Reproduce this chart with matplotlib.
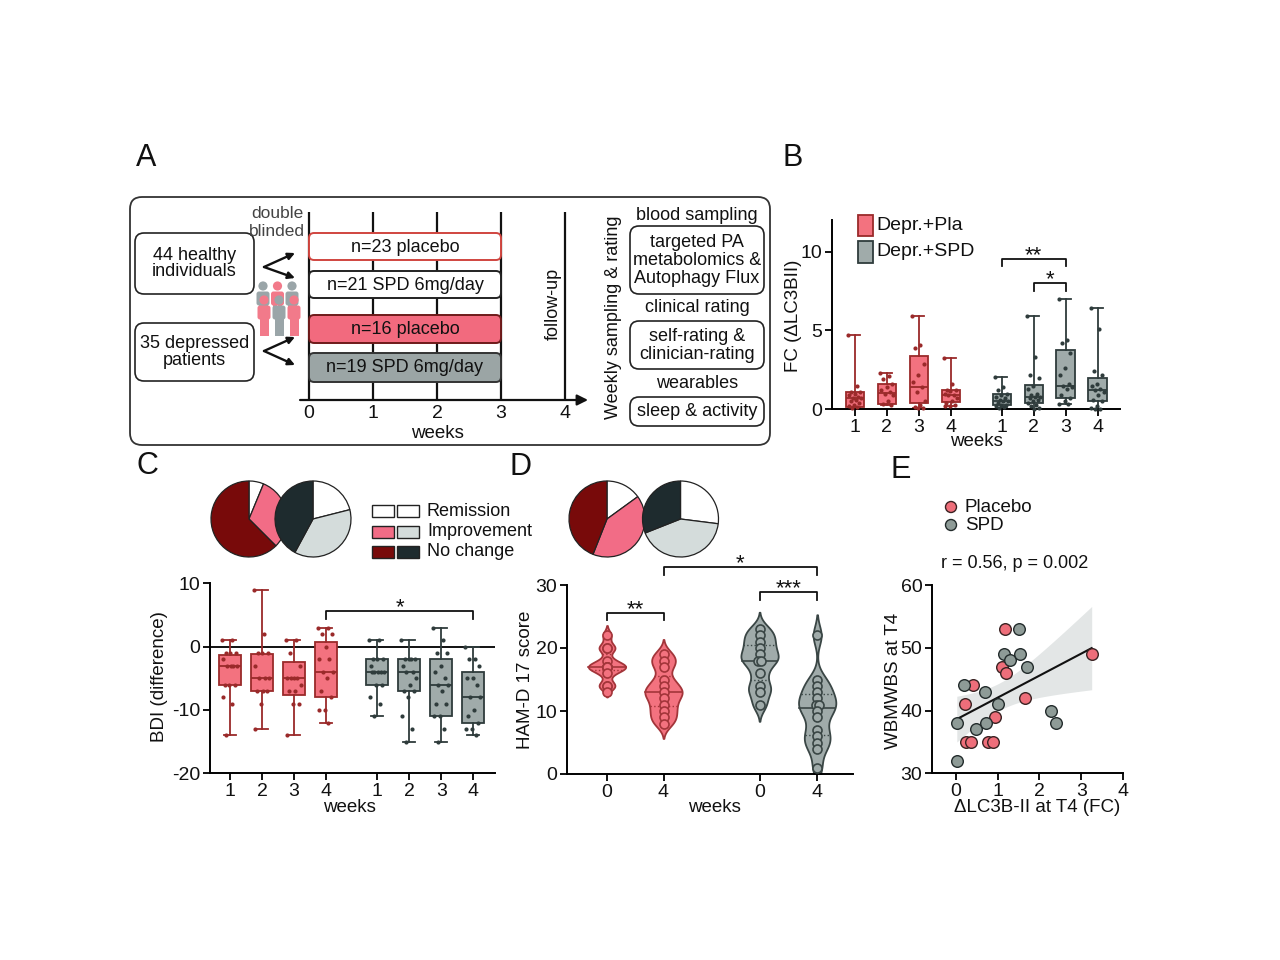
import numpy as np
import matplotlib
matplotlib.use('Agg')
import matplotlib.pyplot as plt
from matplotlib.patches import FancyBboxPatch, Rectangle, Circle

plt.rcParams['font.family'] = ['Liberation Sans', 'DejaVu Sans']
plt.rcParams['axes.unicode_minus'] = False
plt.rcParams['font.size'] = 13

# ======================= DATA =======================
# Panel A: study design
design_weeks = [0, 1, 2, 3, 4]
arm_labels = ['n=23 placebo', 'n=21 SPD 6mg/day', 'n=16 placebo', 'n=19 SPD 6mg/day']
arm_start_week = [0, 0, 0, 0]
arm_end_week = [3, 3, 3, 3]
followup_week = 4
cohort_labels = ['44 healthy\nindividuals', '35 depressed\npatients']
sampling_headers = ['blood sampling', 'clinical rating', 'wearables']
sampling_items = ['targeted PA\nmetabolomics &\nAutophagy Flux',
                  'self-rating &\nclinician-rating', 'sleep & activity']

# Panel B: FC (ΔLC3BII), placebo weeks 1-4 then SPD weeks 1-4
week_ticklabels = ['1', '2', '3', '4', '1', '2', '3', '4']
fc_whislo = [0.10, 0.25, 0.10, 0.20, 0.10, 0.05, 0.35, 0.05]
fc_q1 = [0.15, 0.35, 0.40, 0.45, 0.25, 0.40, 0.70, 0.55]
fc_med = [0.70, 1.05, 1.40, 0.90, 0.55, 0.75, 1.50, 1.20]
fc_q3 = [1.10, 1.60, 3.35, 1.25, 0.95, 1.55, 3.75, 2.00]
fc_whishi = [4.70, 2.30, 5.90, 3.25, 2.05, 5.90, 7.00, 6.40]
fc_points = [
    [4.7, 1.5, 1.1, 1.1, 1.0, 0.9, 0.8, 0.7, 0.7, 0.6, 0.5, 0.4, 0.3, 0.2, 0.15, 0.1],
    [2.3, 2.1, 1.9, 1.6, 1.4, 1.2, 1.1, 1.0, 0.9, 0.5, 0.35, 0.3],
    [5.9, 4.1, 3.9, 2.9, 2.2, 1.7, 1.4, 1.1, 0.5, 0.3, 0.15, 0.1, 0.1],
    [3.25, 1.6, 1.25, 1.2, 1.15, 1.0, 0.9, 0.9, 0.7, 0.5, 0.4, 0.3, 0.2, 0.2],
    [2.05, 1.4, 1.2, 1.0, 0.9, 0.8, 0.7, 0.6, 0.55, 0.5, 0.4, 0.3, 0.25, 0.2, 0.15, 0.1],
    [5.9, 3.3, 2.2, 2.0, 1.5, 1.3, 1.0, 0.9, 0.8, 0.75, 0.7, 0.6, 0.5, 0.4, 0.3, 0.2, 0.1, 0.05],
    [7.0, 4.4, 4.2, 3.6, 2.6, 2.2, 1.6, 1.5, 1.4, 1.3, 0.9, 0.7, 0.5, 0.35, 0.35],
    [6.4, 5.1, 2.4, 2.2, 1.6, 1.5, 1.3, 1.2, 1.1, 0.9, 0.6, 0.5, 0.2, 0.1, 0.05, 0.05],
]

# Panels C/D pies: Remission, Improvement, No change
pie_labels = ['Remission', 'Improvement', 'No change']
bdi_pie_placebo = [1, 5, 10]
bdi_pie_spd = [4, 7, 8]
ham_pie_placebo = [15, 41, 44]
ham_pie_spd = [27, 42, 31]

# Panel C: BDI (difference)
bdi_whislo = [-14, -13, -14, -12, -11, -15, -15, -14]
bdi_q1 = [-6, -7, -7.7, -8, -6, -7, -11, -12]
bdi_med = [-3, -5, -5, -4, -4, -4, -6, -8]
bdi_q3 = [-1.3, -1.1, -2.5, 0.8, -2, -2, -2, -4]
bdi_whishi = [1, 9, 1, 3, 1, 1, 3, 0]
bdi_points = [
    [1, 1, -1, -1, -1, -2, -3, -3, -3, -3, -6, -6, -6, -8, -9, -14],
    [9, 2, -1, -1, -1, -3, -5, -5, -5, -7, -7, -7, -9, -13],
    [1, 1, -1, -3, -5, -5, -5, -5, -6, -7, -7, -9, -9, -14],
    [3, 3, 2, 2, 0, -2, -2, -4, -4, -5, -7, -8, -10, -10, -12],
    [1, 1, -2, -2, -2, -3, -4, -4, -4, -4, -4, -6, -6, -8, -9, -11],
    [1, -2, -2, -2, -2, -3, -4, -4, -5, -6, -7, -7, -8, -11, -13, -15],
    [3, 1, -1, -1, -3, -4, -5, -6, -6, -7, -9, -9, -11, -11, -13, -15],
    [0, -2, -2, -3, -5, -5, -6, -8, -8, -10, -11, -12, -13, -13, -14],
]

# Panel D: HAM-D 17 score
ham_ticklabels = ['0', '4', '0', '4']
ham_groups = [
    [22, 20, 20, 18, 17, 17, 17, 17, 16, 14, 14],
    [19, 18, 17, 15, 14, 13, 13, 12, 11, 10, 9, 8],
    [23, 22, 21, 20, 19, 18, 18, 16, 14, 13, 11],
    [22, 15, 14, 13, 12, 11, 11, 10, 9, 7, 6, 5, 4, 1],
]

# Panel E: ΔLC3B-II at T4 vs WBMWBS at T4
lc3_placebo = [1.17, 1.11, 1.21, 3.25, 0.41, 0.21, 1.65, 0.93, 0.25, 0.37, 0.77, 0.89]
wb_placebo = [53, 47, 46, 49, 44, 41, 42, 39, 35, 35, 35, 35]
lc3_spd = [1.51, 1.15, 1.29, 1.54, 1.70, 0.19, 0.69, 1.01, 0.02, 0.49, 0.73, 2.28, 2.40, 0.03]
wb_spd = [53, 49, 48, 49, 47, 44, 43, 41, 38, 37, 38, 40, 38, 32]
corr_text = 'r = 0.56, p = 0.002'

# ======================= STYLE =======================
PINK = '#F3727F'
DRED = '#9A2A2A'
GRAY = '#A0ABAA'
DGRAY = '#2F3C3C'
PIE_PLA = ['white', '#F26C86', '#780A0A']
PIE_SPD = ['white', '#D4DCDB', '#1E2B2E']
TXT = '#111111'
POS8 = [0, 1, 2, 3, 4.6, 5.6, 6.6, 7.6]
POS4 = [0, 1, 2.7, 3.72]

W, H = 1280, 960
fig = plt.figure(figsize=(W / 100, H / 100), dpi=100)
fig.patch.set_facecolor('white')


def add_ax(x0, y0, x1, y1):
    a = fig.add_axes([x0 / W, 1 - y1 / H, (x1 - x0) / W, (y1 - y0) / H])
    a.set_facecolor('none')
    return a


def style_ax(a):
    for s in ['top', 'right']:
        a.spines[s].set_visible(False)
    for s in ['left', 'bottom']:
        a.spines[s].set_linewidth(1.4)
    a.tick_params(width=1.4, length=5, labelsize=14, pad=2, colors=TXT)


ov = add_ax(0, 0, W, H)
ov.set_xlim(0, W)
ov.set_ylim(H, 0)
ov.axis('off')


def rbox(x0, y0, x1, y1, fc='white', ec='#222', lw=1.2, r=9, z=1):
    ov.add_patch(FancyBboxPatch((x0, y0), x1 - x0, y1 - y0,
                                boxstyle=f'round,pad=0,rounding_size={r}',
                                fc=fc, ec=ec, lw=lw, zorder=z))

# ---------------- Panel letters ----------------
for letter, (lx, ly) in zip('ABCDE', [(146, 158), (793, 158), (147, 466), (520, 467), (901, 470)]):
    ov.text(lx, ly, letter, fontsize=22, ha='center', va='center', color=TXT)

# ---------------- Panel A ----------------
rbox(130, 197, 770, 445, fc='none', ec='#333', lw=1.3, r=12)
for lab, (y0, y1) in zip(cohort_labels, [(233, 294), (323, 381)]):
    rbox(135, y0, 254, y1, r=9)
    ov.text(194.5, (y0 + y1) / 2, lab, ha='center', va='center', fontsize=13,
            linespacing=1.0, color=TXT)
# chevron arrows
for vx, vy, t1, t2 in [(264, 267, 253, 278), (264, 351, 337, 365)]:
    for ty in (t1, t2):
        ov.annotate('', xy=(295, ty), xytext=(vx, vy),
                    arrowprops=dict(arrowstyle='-|>', lw=1.7, color='#111',
                                    mutation_scale=10, shrinkA=0, shrinkB=0))
# people icons
def person(cx, ty, color, h):
    ov.add_patch(Circle((cx, ty), 4.6, fc=color, ec='none', zorder=3))
    ov.add_patch(FancyBboxPatch((cx - 6.5, ty + 5.5), 13, 14, boxstyle='round,pad=0,rounding_size=2.5',
                                fc=color, ec='none', zorder=3))
    ov.add_patch(Rectangle((cx - 4.5, ty + 18), 4.2, h, fc=color, ec='none', zorder=3))
    ov.add_patch(Rectangle((cx + 0.3, ty + 18), 4.2, h, fc=color, ec='none', zorder=3))
PGRAY = '#9AA5A8'
PPINK = '#F27A8A'
for cx, col in zip([263, 277.5, 292], [PGRAY, PPINK, PGRAY]):
    person(cx, 286, col, 8)
for cx, col in zip([264, 279, 294], [PPINK, PGRAY, PPINK]):
    person(cx, 300, col, 18)
ov.text(277, 213, 'double', ha='center', va='center', fontsize=12.5, color='#444')
ov.text(277, 231, 'blinded', ha='center', va='center', fontsize=12.5, color='#444')

# timeline axes in weeks
axT = add_ax(277, 200, 597, 430)
axT.set_xlim(-0.5, 4.5)
axT.set_ylim(430, 200)
axT.axis('off')
for w in design_weeks:
    axT.plot([w, w], [212, 400], color='#111', lw=1.6, solid_capstyle='butt', zorder=1)
axT.annotate('', xy=(4.36, 400), xytext=(-0.14, 400),
             arrowprops=dict(arrowstyle='-|>', lw=1.6, color='#111', mutation_scale=16,
                             shrinkA=0, shrinkB=0))
for w in design_weeks:
    axT.text(w, 413, str(w), ha='center', va='center', fontsize=14, color=TXT)
axT.text(2, 433, 'weeks', ha='center', va='center', fontsize=13.5, color=TXT)
arm_rows = [(233, 260), (271, 298), (315, 343), (353, 382)]
arm_fc = ['white', 'white', '#F26A7E', '#9BA5A5']
arm_ec = ['#D0453F', '#222', '#6E1A1A', '#333']
for lab, s, e, (y0, y1), fc, ec in zip(arm_labels, arm_start_week, arm_end_week, arm_rows, arm_fc, arm_ec):
    axT.add_patch(FancyBboxPatch((s, y0), e - s, y1 - y0,
                                 boxstyle='round,pad=0,rounding_size=0.08', mutation_aspect=64,
                                 fc=fc, ec=ec, lw=1.4, zorder=3))
    axT.text((s + e) / 2, (y0 + y1) / 2 + 0.5, lab, ha='center', va='center', fontsize=13,
             color=TXT, zorder=4)
axT.text(followup_week - 0.19, 304, 'follow-up', rotation=90, ha='center', va='center',
         fontsize=13, color=TXT)

ov.text(613, 317, 'Weekly sampling & rating', rotation=90, ha='center', va='center',
        fontsize=13, color=TXT)
hdr_y = [215, 307, 383]
item_boxes = [(226, 294), (321, 369), (397, 426)]
for hdr, hy, item, (y0, y1) in zip(sampling_headers, hdr_y, sampling_items, item_boxes):
    ov.text(697, hy, hdr, ha='center', va='center', fontsize=13, color=TXT)
    rbox(630, y0, 764, y1, r=9)
    ov.text(697, (y0 + y1) / 2 + 0.5, item, ha='center', va='center', fontsize=13,
            linespacing=1.05, color=TXT)

# ---------------- Box plot helper ----------------
def draw_boxes(ax, lo, q1, med, q3, hi, pts, width, capw, jit):
    for i in range(len(POS8)):
        fc, ec = (PINK, DRED) if i < 4 else (GRAY, DGRAY)
        st = dict(whislo=lo[i], q1=q1[i], med=med[i], q3=q3[i], whishi=hi[i], fliers=[])
        ax.bxp([st], positions=[POS8[i]], widths=width, capwidths=[capw], patch_artist=True,
               showfliers=False, manage_ticks=False,
               boxprops=dict(facecolor=fc, edgecolor=ec, linewidth=1.3),
               medianprops=dict(color=ec, linewidth=1.3),
               whiskerprops=dict(color=ec, linewidth=1.3),
               capprops=dict(color=ec, linewidth=1.3))
        v = np.asarray(pts[i], float)
        off = ((np.arange(len(v)) * 0.618) % 1 - 0.5) * jit
        ax.scatter(POS8[i] + off, v, s=9, color=ec, zorder=4, linewidths=0, clip_on=False)


def bracket(ax, x1, x2, y, h, text, fs=16):
    ax.plot([x1, x1, x2, x2], [y - h, y, y, y - h], color='#111', lw=1.3, clip_on=False)
    ax.annotate(text, xy=((x1 + x2) / 2, y), xytext=(0, -1.5), textcoords='offset points',
                ha='center', va='baseline', fontsize=fs, color=TXT, annotation_clip=False)

# ---------------- Panel B ----------------
axB = add_ax(832, 220, 1120, 409.3)
style_ax(axB)
draw_boxes(axB, fc_whislo, fc_q1, fc_med, fc_q3, fc_whishi, fc_points, 0.58, 0.34, 0.42)
axB.set_xlim(-0.72, 8.3)
axB.set_ylim(0, 12.0)
axB.set_yticks([0, 5, 10])
axB.set_xticks(POS8)
axB.set_xticklabels(week_ticklabels)
bracket(axB, POS8[4], POS8[6], 9.55, 0.45, '**')
bracket(axB, POS8[5], POS8[6], 8.0, 0.5, '*')
ov.text(976, 442, 'weeks', ha='center', va='center', fontsize=13.5, color=TXT)
ov.text(793, 316, 'FC (ΔLC3BII)', rotation=90, ha='center', va='center', fontsize=13.5, color=TXT)
ov.add_patch(Rectangle((858, 215), 15, 21, fc=PINK, ec=DRED, lw=1.3))
ov.add_patch(Rectangle((858, 241), 15, 22, fc=GRAY, ec=DGRAY, lw=1.3))
ov.text(876, 226, 'Depr.+Pla', ha='left', va='center', fontsize=14, color=TXT)
ov.text(876, 252, 'Depr.+SPD', ha='left', va='center', fontsize=14, color=TXT)

# ---------------- Pies ----------------
def pie_at(cx, cy, r, vals, cols):
    pa = add_ax(cx - r * 1.03, cy - r * 1.03, cx + r * 1.03, cy + r * 1.03)
    pa.pie(vals, colors=cols, startangle=90, counterclock=False, radius=1,
           wedgeprops=dict(edgecolor='#222', linewidth=0.9))
    pa.set_xlim(-1.03, 1.03)
    pa.set_ylim(-1.03, 1.03)
    pa.set_aspect('equal')
    pa.axis('off')

pie_at(249, 519, 38, bdi_pie_placebo, PIE_PLA)
pie_at(313, 519, 38, bdi_pie_spd, PIE_SPD)
pie_at(607, 519, 38, ham_pie_placebo, PIE_PLA)
pie_at(680.5, 519, 38, ham_pie_spd, PIE_SPD)
for lab, yc, c1, c2 in zip(pie_labels, [511, 531.5, 552], PIE_PLA, PIE_SPD):
    ov.add_patch(Rectangle((372, yc - 6), 22, 12, fc=c1, ec='#222', lw=1.0))
    ov.add_patch(Rectangle((397, yc - 6), 22, 12, fc=c2, ec='#222', lw=1.0))
    ov.text(427, yc, lab, ha='left', va='center', fontsize=13, color=TXT)

# ---------------- Panel C ----------------
axC = add_ax(210, 583.3, 495, 773.3)
style_ax(axC)
draw_boxes(axC, bdi_whislo, bdi_q1, bdi_med, bdi_q3, bdi_whishi, bdi_points, 0.68, 0.36, 0.5)
axC.axhline(0, color='#111', lw=1.4, zorder=1)
axC.set_xlim(-0.625, 8.28)
axC.set_ylim(-20, 10)
axC.set_yticks([-20, -10, 0, 10])
axC.set_xticks(POS8)
axC.set_xticklabels(week_ticklabels)
bracket(axC, POS8[3], POS8[7], 5.6, 1.26, '*')
ov.text(349, 808, 'weeks', ha='center', va='center', fontsize=13.5, color=TXT)
ov.text(160, 677, 'BDI (difference)', rotation=90, ha='center', va='center', fontsize=13.5, color=TXT)

# ---------------- Panel D ----------------
axD = add_ax(567, 585, 853, 774)
style_ax(axD)
axD.set_xlim((567 - 607) / 56.5, (853 - 607) / 56.5)
axD.set_ylim(0, 30)
vfc = [PINK, PINK, GRAY, GRAY]
vec = ['#A3353A', '#A3353A', '#3A4645', '#3A4645']
for i, d in enumerate(ham_groups):
    d = np.asarray(d, float)
    bw = 0.5 * d.std() * len(d) ** -0.2
    grid = np.linspace(d.min() - 5 * bw, d.max() + 5 * bw, 600)
    dens = np.exp(-0.5 * ((grid[None, :] - d[:, None]) / bw) ** 2).sum(0)
    keep = dens > 0.02 * dens.max()
    g, w = grid[keep], dens[keep] / dens.max() * 0.33
    p = POS4[i]
    axD.fill_betweenx(g, p - w, p + w, facecolor=vfc[i], edgecolor=vec[i], lw=1.3, zorder=2)
    q25, q50, q75 = np.percentile(d, [25, 50, 75])
    for q, ls in [(q25, ':'), (q50, '-'), (q75, ':')]:
        wq = np.interp(q, g, w)
        axD.plot([p - wq, p + wq], [q, q], color=vec[i], lw=1.2 if ls == '-' else 1.0, ls=ls, zorder=3)
    xs = np.full(len(d), p)
    for val in np.unique(d):
        idx = np.where(d == val)[0]
        k = len(idx)
        xs[idx] = p + (np.arange(k) - (k - 1) / 2) * 0.05
    axD.scatter(xs, d, s=42, facecolor=vfc[i], edgecolor=vec[i], linewidths=1.2, zorder=4, clip_on=False)
axD.set_yticks([0, 10, 20, 30])
axD.set_xticks(POS4)
axD.set_xticklabels(ham_ticklabels)
bracket(axD, POS4[0], POS4[1], 25.6, 1.1, '**')
bracket(axD, POS4[2], POS4[3], 28.9, 1.25, '***')
bracket(axD, POS4[1], POS4[3], 32.9, 1.3, '*')
ov.text(714, 808, 'weeks', ha='center', va='center', fontsize=13.5, color=TXT)
ov.text(526, 680, 'HAM-D 17 score', rotation=90, ha='center', va='center', fontsize=13.5, color=TXT)

# ---------------- Panel E ----------------
axE = add_ax(932, 585, 1123, 773.3)
style_ax(axE)
xa = np.array(lc3_placebo + lc3_spd)
ya = np.array(wb_placebo + wb_spd, float)
b, a = np.polyfit(xa, ya, 1)
xs = np.linspace(xa.min(), xa.max(), 100)
n = len(xa)
res = ya - (a + b * xa)
s = np.sqrt(res @ res / (n - 2))
se = s * np.sqrt(1 / n + (xs - xa.mean()) ** 2 / ((xa - xa.mean()) ** 2).sum())
tval = 2.064
axE.fill_between(xs, a + b * xs - tval * se, a + b * xs + tval * se, color='#E3E6E6', lw=0, zorder=1)
axE.plot(xs, a + b * xs, color='#111', lw=1.5, zorder=2)
EP, ES = '#EE6E7A', '#8E9B97'
axE.scatter(lc3_placebo, wb_placebo, s=70, facecolor=EP, edgecolor='#3a2222', linewidths=1.0, zorder=3, clip_on=False)
axE.scatter(lc3_spd, wb_spd, s=70, facecolor=ES, edgecolor='#222b2b', linewidths=1.0, zorder=3, clip_on=False)
axE.set_xlim((932 - 956) / 41.8, 4)
axE.set_ylim(30, 60)
axE.set_xticks([0, 1, 2, 3, 4])
axE.set_yticks([30, 40, 50, 60])
ov.text(1037, 807, 'ΔLC3B-II at T4 (FC)', ha='center', va='center', fontsize=13.5, color=TXT)
ov.text(893, 681, 'WBMWBS at T4', rotation=90, ha='center', va='center', fontsize=13.5, color=TXT)
ov.text(1015, 563, corr_text, ha='center', va='center', fontsize=13, color=TXT)
ov.add_patch(Circle((951, 507), 5.5, fc=EP, ec='#3a2222', lw=1.0))
ov.add_patch(Circle((951, 525), 5.5, fc=ES, ec='#222b2b', lw=1.0))
ov.text(965, 507, 'Placebo', ha='left', va='center', fontsize=13.5, color=TXT)
ov.text(965, 525, 'SPD', ha='left', va='center', fontsize=13.5, color=TXT)

fig.savefig('out.png', dpi=100, facecolor='white')
